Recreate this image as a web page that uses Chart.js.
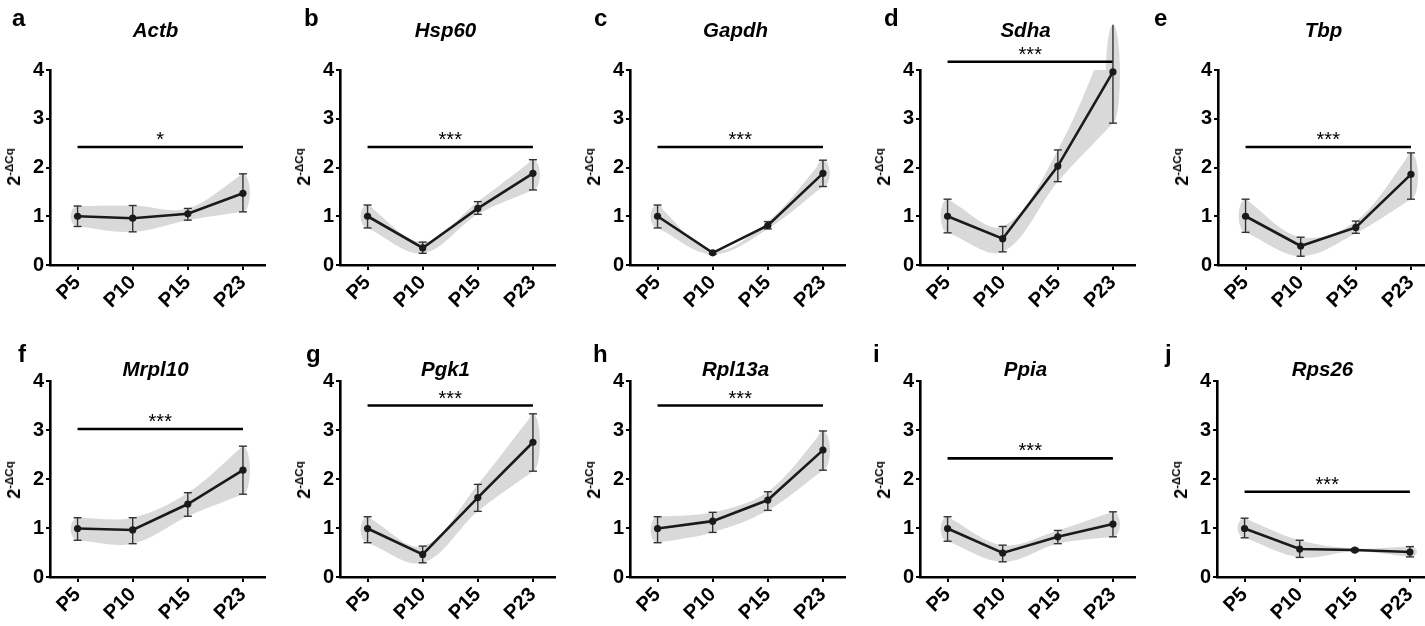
<!DOCTYPE html>
<html>
<head>
<meta charset="utf-8">
<script src="https://cdn.jsdelivr.net/npm/chart.js@4/dist/chart.umd.min.js"></script>
<style>
  html, body { margin:0; padding:0; background:#fff; width:1425px; height:626px; overflow:hidden; position:relative; }
  .panel { position:absolute; }
  .letter { position:absolute; font:bold 24px "Liberation Sans", Arial, sans-serif; line-height:24px; color:#000; }
  .gene { position:absolute; font:italic bold 20.5px "Liberation Sans", Arial, sans-serif; line-height:20.5px; color:#000; transform:translateX(-50%); white-space:nowrap; }
  .ytitle { position:absolute; font:bold 18px "Liberation Sans", Arial, sans-serif; color:#000; white-space:nowrap; transform:translate(-50%,-50%) rotate(-90deg); line-height:18px; }
  .ytitle sup { font-size:11.5px; vertical-align:0; position:relative; top:-7px; }
</style>
</head>
<body>
<script>
// ---- data ----
const categories = ['P5', 'P10', 'P15', 'P23'];
const genes = ['Actb', 'Hsp60', 'Gapdh', 'Sdha', 'Tbp', 'Mrpl10', 'Pgk1', 'Rpl13a', 'Ppia', 'Rps26'];
const panelLetters = ['a', 'b', 'c', 'd', 'e', 'f', 'g', 'h', 'i', 'j'];
const yTicks = [0, 1, 2, 3, 4];

const meanValues = [
  [1.00, 0.96, 1.05, 1.47],
  [1.00, 0.35, 1.16, 1.88],
  [1.00, 0.25, 0.81, 1.88],
  [1.00, 0.54, 2.03, 3.96],
  [1.00, 0.39, 0.77, 1.86],
  [0.99, 0.96, 1.49, 2.18],
  [0.99, 0.46, 1.62, 2.75],
  [0.99, 1.14, 1.57, 2.59],
  [0.99, 0.49, 0.82, 1.08],
  [0.99, 0.57, 0.55, 0.51]
];
const lowValues = [
  [0.79, 0.68, 0.92, 1.09],
  [0.76, 0.24, 1.04, 1.54],
  [0.76, 0.22, 0.74, 1.61],
  [0.66, 0.27, 1.71, 2.91],
  [0.67, 0.18, 0.65, 1.35],
  [0.75, 0.68, 1.24, 1.69],
  [0.70, 0.29, 1.34, 2.16],
  [0.70, 0.91, 1.36, 2.18],
  [0.73, 0.31, 0.68, 0.82],
  [0.80, 0.40, 0.52, 0.41]
];
const highValues = [
  [1.21, 1.22, 1.16, 1.87],
  [1.23, 0.47, 1.30, 2.16],
  [1.23, 0.29, 0.89, 2.15],
  [1.35, 0.79, 2.36, 4.93],
  [1.35, 0.57, 0.90, 2.30],
  [1.21, 1.21, 1.72, 2.67],
  [1.23, 0.63, 1.89, 3.33],
  [1.23, 1.32, 1.74, 2.98],
  [1.23, 0.65, 0.95, 1.33],
  [1.20, 0.75, 0.58, 0.62]
];
const sigLevels = [2.42, 2.42, 2.42, 4.17, 2.42, 3.02, 3.50, 3.50, 2.42, 1.74];
const sigLabels = ['*', '***', '***', '***', '***', '***', '***', '***', '***', '***'];

// ---- layout ----
const FONT = '"Liberation Sans", Arial, sans-serif';
const BAND = '#d9d9d9';
const canvasLefts = [0, 290, 580, 870, 1168, 0, 290, 580, 870, 1167];
const letterLefts = [12, 304, 594, 884, 1154, 18, 306, 593, 873, 1165];
const rows = [
  { top: 0, height: 310, padTop: 70, xh: 45, letterTop: 6, geneTop: 20, yTitleY: 167 },
  { top: 310, height: 316, padTop: 71, xh: 49, letterTop: 342, geneTop: 359, yTitleY: 480 }
];

const starPlugin = {
  id: 'stars',
  beforeDatasetsDraw(chart, args, opts) {
    // rounded ends of the shaded band at the first and last category
    const xs = chart.scales.x, ys = chart.scales.y;
    const ctx = chart.ctx;
    ctx.save();
    ctx.fillStyle = BAND;
    [0, categories.length - 1].forEach(i => {
      const x = xs.getPixelForValue(i);
      const yTop = ys.getPixelForValue(opts.hi[i]);
      const yBot = ys.getPixelForValue(opts.lo[i]);
      ctx.beginPath();
      ctx.ellipse(x, (yTop + yBot) / 2, 7, Math.abs(yBot - yTop) / 2, 0, 0, Math.PI * 2);
      ctx.fill();
    });
    ctx.restore();
  },
  afterDatasetsDraw(chart, args, opts) {
    const xs = chart.scales.x, ys = chart.scales.y;
    const ctx = chart.ctx;
    ctx.save();
    ctx.fillStyle = '#000';
    ctx.font = '20px ' + FONT;
    ctx.textAlign = 'center';
    ctx.textBaseline = 'alphabetic';
    ctx.fillText(opts.label, xs.getPixelForValue((categories.length - 1) / 2), ys.getPixelForValue(opts.level) - 1);
    ctx.restore();
  }
};

genes.forEach((gene, k) => {
  const row = rows[k < 5 ? 0 : 1];
  const left = canvasLefts[k];

  const wrap = document.createElement('div');
  wrap.className = 'panel';
  wrap.style.left = left + 'px';
  wrap.style.top = row.top + 'px';
  wrap.style.width = '290px';
  wrap.style.height = row.height + 'px';
  const cv = document.createElement('canvas');
  cv.width = 290; cv.height = row.height;
  cv.style.width = '290px'; cv.style.height = row.height + 'px';
  wrap.appendChild(cv);
  document.body.appendChild(wrap);

  const lt = document.createElement('div');
  lt.className = 'letter';
  lt.textContent = panelLetters[k];
  lt.style.left = letterLefts[k] + 'px';
  lt.style.top = row.letterTop + 'px';
  document.body.appendChild(lt);

  const gt = document.createElement('div');
  gt.className = 'gene';
  gt.textContent = gene;
  gt.style.left = (left + 155.5) + 'px';
  gt.style.top = row.geneTop + 'px';
  document.body.appendChild(gt);

  const yt = document.createElement('div');
  yt.className = 'ytitle';
  yt.innerHTML = '2<sup>-\u0394Cq</sup>';
  yt.style.left = (left + 15) + 'px';
  yt.style.top = row.yTitleY + 'px';
  document.body.appendChild(yt);

  const means = meanValues[k], lows = lowValues[k], highs = highValues[k];
  const pts = arr => arr.map((v, i) => ({ x: i, y: v }));
  const whisker = [];
  categories.forEach((c, i) => {
    whisker.push({ x: i, y: lows[i] }, { x: i, y: highs[i] }, { x: i, y: null });
  });

  new Chart(cv, {
    type: 'line',
    data: {
      datasets: [
        { // mean line
          data: pts(means), order: 0, clip: false,
          borderColor: '#1a1a1a', borderWidth: 2.6, tension: 0,
          pointRadius: 3.6, pointBackgroundColor: '#1a1a1a', pointBorderColor: '#1a1a1a', pointBorderWidth: 0
        },
        { // error bars
          data: whisker, order: 1, clip: false, spanGaps: false,
          borderColor: '#333', borderWidth: 1.4, tension: 0,
          pointStyle: 'line', pointRadius: 4, pointBorderColor: '#333', pointBorderWidth: 1.4
        },
        { // significance bar
          data: [{ x: 0, y: sigLevels[k] }, { x: categories.length - 1, y: sigLevels[k] }],
          order: 1, clip: false, borderColor: '#000', borderWidth: 2.6, pointRadius: 0
        },
        { // band upper
          data: pts(highs), order: 3, clip: false, tension: 0.35,
          borderWidth: 0, borderColor: 'rgba(0,0,0,0)', pointRadius: 0,
          fill: '+1', backgroundColor: BAND
        },
        { // band lower
          data: pts(lows), order: 4, clip: false, tension: 0.35,
          borderWidth: 0, borderColor: 'rgba(0,0,0,0)', pointRadius: 0, fill: false
        }
      ]
    },
    options: {
      responsive: false, animation: false, events: [],
      layout: { padding: { top: row.padTop, right: 25, left: 0, bottom: 0 } },
      plugins: {
        legend: { display: false }, tooltip: { enabled: false }, title: { display: false },
        stars: { label: sigLabels[k], level: sigLevels[k], lo: lows, hi: highs }
      },
      scales: {
        x: {
          type: 'linear', min: -0.5, max: categories.length - 0.6,
          afterBuildTicks: s => { s.ticks = categories.map((c, i) => ({ value: i })); },
          afterFit: s => { s.height = row.xh; },
          ticks: {
            autoSkip: false, maxRotation: 45, minRotation: 45, padding: 1,
            color: '#000', font: { family: FONT, size: 20, weight: 'bold' },
            callback: v => categories[v]
          },
          grid: { display: true, drawOnChartArea: false, drawTicks: true, tickLength: 5, color: '#000', lineWidth: 2 },
          border: { display: true, color: '#000', width: 2.6 }
        },
        y: {
          min: yTicks[0], max: yTicks[yTicks.length - 1],
          afterBuildTicks: s => { s.ticks = yTicks.map(v => ({ value: v })); },
          afterFit: s => { s.width = 50; },
          ticks: { color: '#000', padding: 2, font: { family: FONT, size: 20, weight: 'bold' } },
          grid: { display: true, drawOnChartArea: false, drawTicks: true, tickLength: 4, color: '#000', lineWidth: 2 },
          border: { display: true, color: '#000', width: 2.6 }
        }
      }
    },
    plugins: [starPlugin]
  });
});
</script>
</body>
</html>
